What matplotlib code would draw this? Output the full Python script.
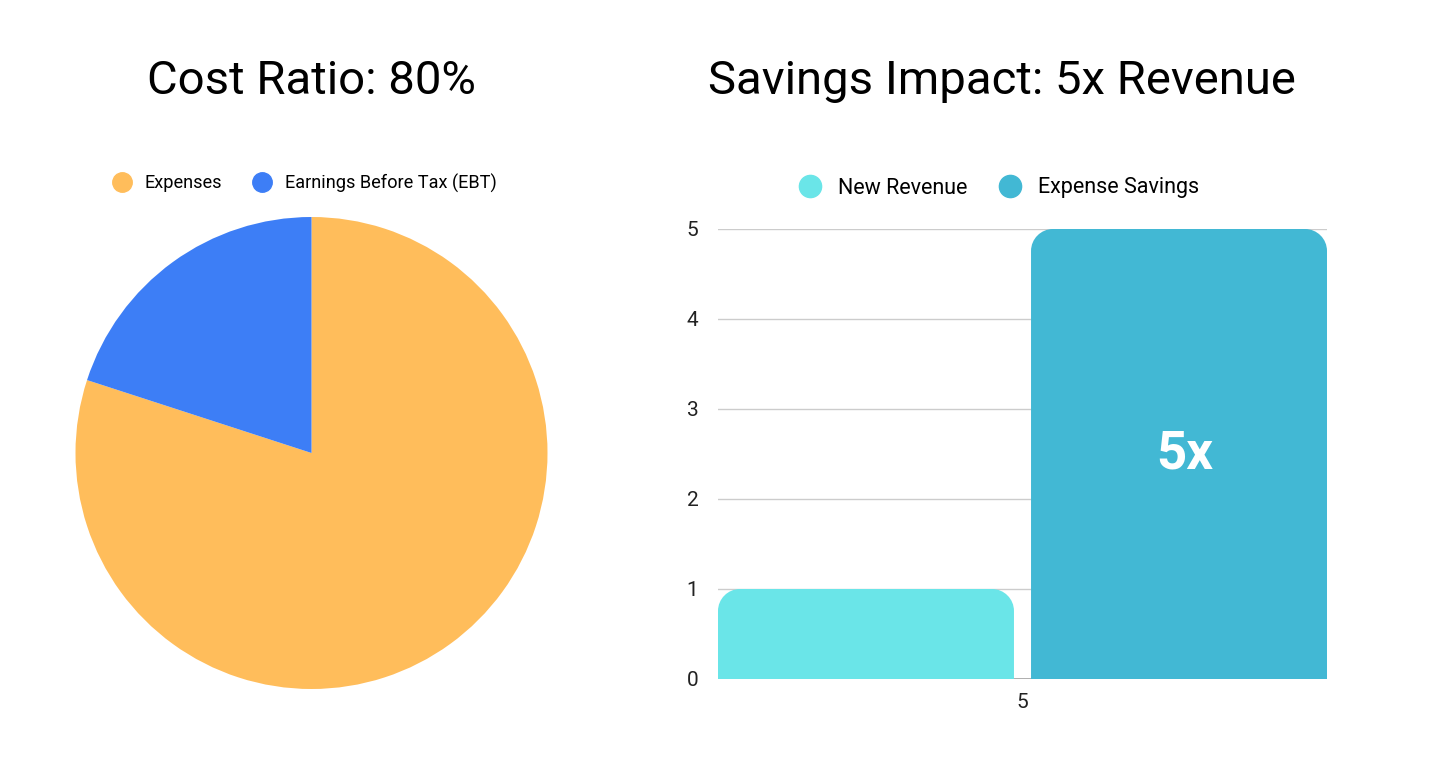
import numpy as np
import matplotlib.pyplot as plt
from matplotlib.path import Path
from matplotlib.patches import PathPatch
from matplotlib.lines import Line2D

plt.rcParams['font.family'] = ['Roboto', 'DejaVu Sans']

# data
pie_labels = ["Expenses", "Earnings Before Tax (EBT)"]
pie_values = [80, 20]
pie_colors = ["#ffbd5b", "#3d7ef6"]

categories = ["5"]
series_names = ["New Revenue", "Expense Savings"]
new_revenue = [1]
expense_savings = [5]
bar_colors = ["#6ae5e8", "#42b8d4"]

W, H = 1430, 761
fig = plt.figure(figsize=(W / 100, H / 100), dpi=100)

# pie
ax1 = fig.add_axes([75.5 / W, (H - 689) / H, 472 / W, 472 / H])
ax1.pie(pie_values, colors=pie_colors, startangle=90, counterclock=False,
        radius=1.0, wedgeprops=dict(linewidth=0))
ax1.set_xlim(-1, 1)
ax1.set_ylim(-1, 1)
ax1.set_aspect('auto')
fig.text(311 / W, 1 - 81 / H, "Cost Ratio: 80%", ha='center', va='center', fontsize=34)

h1 = [Line2D([], [], marker='o', linestyle='', markersize=14, color=c) for c in pie_colors]
fig.legend(h1, pie_labels, loc='center', bbox_to_anchor=(300 / W, 1 - 183 / H),
           ncol=2, frameon=False, fontsize=13.1, handletextpad=0.25, columnspacing=1.2)

# bars
ax_left, ax_right, y0_px, y5_px = 718, 1327, 679, 229
ax2 = fig.add_axes([ax_left / W, (H - y0_px) / H, (ax_right - ax_left) / W, (y0_px - y5_px) / H])
x = np.arange(len(categories))
bw = 0.486
off = 0.257
ax2.set_xlim(-0.5, 0.5)
ax2.set_ylim(0, 5)

rx = 22 / (ax_right - ax_left) * 1.0
ry = 22 / (y0_px - y5_px) * 5.0


def rounded_bar(ax, xc, width, height, color):
    l, r = xc - width / 2, xc + width / 2
    k = 0.5523
    verts = [(l, 0), (l, height - ry),
             (l, height - ry + k * ry), (l + rx - k * rx, height), (l + rx, height),
             (r - rx, height),
             (r - rx + k * rx, height), (r, height - ry + k * ry), (r, height - ry),
             (r, 0), (l, 0)]
    codes = [Path.MOVETO, Path.LINETO,
             Path.CURVE4, Path.CURVE4, Path.CURVE4,
             Path.LINETO,
             Path.CURVE4, Path.CURVE4, Path.CURVE4,
             Path.LINETO, Path.CLOSEPOLY]
    ax.add_patch(PathPatch(Path(verts, codes), facecolor=color, edgecolor='none', zorder=3))


for i in range(len(categories)):
    rounded_bar(ax2, x[i] - off, bw, new_revenue[i], bar_colors[0])
    rounded_bar(ax2, x[i] + off, bw, expense_savings[i], bar_colors[1])
    ax2.text(x[i] + off + 0.009, expense_savings[i] * 0.5, f"{expense_savings[i]}x", ha='center',
             va='center', color='white', fontsize=38, fontweight='bold', zorder=4)

ax2.set_yticks(range(0, 6))
ax2.set_xticks(x)
ax2.set_xticklabels(categories)
ax2.grid(axis='y', color='#cccccc', linewidth=1, zorder=0)
ax2.axhline(0, color='#999999', linewidth=1.2, zorder=1)
for s in ax2.spines.values():
    s.set_visible(False)
ax2.tick_params(length=0, labelsize=15, colors='#222222')
ax2.tick_params(axis='y', pad=14)
ax2.tick_params(axis='x', pad=10)

fig.text(1002 / W, 1 - 81 / H, "Savings Impact: 5x Revenue", ha='center', va='center', fontsize=34)
h2 = [Line2D([], [], marker='o', linestyle='', markersize=16, color=c) for c in bar_colors]
fig.legend(h2, series_names, loc='center', bbox_to_anchor=(994 / W, 1 - 188 / H),
           ncol=2, frameon=False, fontsize=15.5, handletextpad=0.3, columnspacing=1.0)

fig.savefig("out.png", dpi=100, facecolor='white')
